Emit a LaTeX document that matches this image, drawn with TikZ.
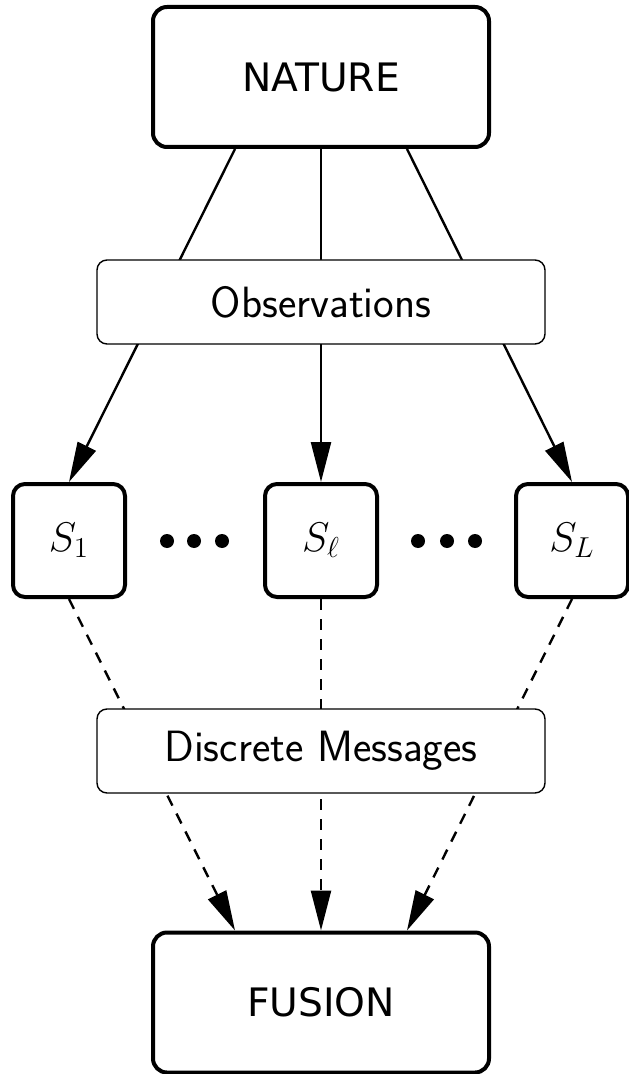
\documentclass[tikz,border=0pt]{standalone}
\usepackage{fontspec}
\newfontfamily\capsfont{DejaVu Sans}
\usetikzlibrary{arrows.meta,calc}

\tikzset{
  bigbox/.style={draw, fill=white, line width=2pt, rounded corners=7pt,
    minimum width=168pt, minimum height=70pt, inner sep=0pt,
    font=\capsfont\fontsize{19.6}{23}\selectfont},
  midbox/.style={draw, fill=white, line width=0.7pt, rounded corners=5pt,
    minimum width=224pt, minimum height=42pt, inner sep=0pt,
    font=\sffamily\fontsize{21.9}{26}\selectfont},
  sensor/.style={draw, fill=white, line width=2pt, rounded corners=6pt,
    minimum width=56pt, minimum height=56.5pt, inner sep=0pt,
    font=\fontsize{20.74}{25}\selectfont},
  link/.style={line width=1.2pt, -{Triangle[length=20pt,width=10pt]}},
  msglink/.style={line width=1.2pt, dash pattern=on 5.5pt off 4.5pt},
  msgarrow/.style={msglink, -{Triangle[length=20pt,width=10pt]}},
  dot/.style={fill=black}
}

\begin{document}
\begin{tikzpicture}[x=0.5pt,y=-0.5pt]
\useasboundingbox (0,0) rectangle (628,1074);

% nodes (placed first so the connectors can refer to them)
\node[bigbox] (nat) at (321,77) {NATURE};
\node[sensor] (s1) at (69,540.5) {$S_1$};
\node[sensor] (sl) at (321,540.5) {$S_\ell$};
\node[sensor] (sL) at (572,540.5) {$S_L$};
\node[bigbox] (fus) at (321,1002.5) {FUSION};

% nature -> sensors (passing behind the observations box)
\draw[link] ($(nat.south)+(-86,0)$) -- (s1.north);
\draw[link] (nat.south) -- (sl.north);
\draw[link] ($(nat.south)+(86,0)$) -- (sL.north);

% sensors -> fusion (passing behind the messages box)
\draw[msgarrow] (s1.south) -- ($(fus.north)+(-86,0)$);
\draw[msgarrow] (sl.south) -- (fus.north);
\draw[msgarrow] (sL.south) -- ($(fus.north)+(86,0)$);

% labelled bands drawn over the connectors
\node[midbox] (obs) at (321,302) {Observations};
\node[midbox] (dm) at (321,751) {Discrete Messages};

% ellipsis dots between the sensors
\foreach \x in {167,194,222,418,447,475}
  \fill[dot] (\x,541) circle (3.5pt);
\end{tikzpicture}
\end{document}
